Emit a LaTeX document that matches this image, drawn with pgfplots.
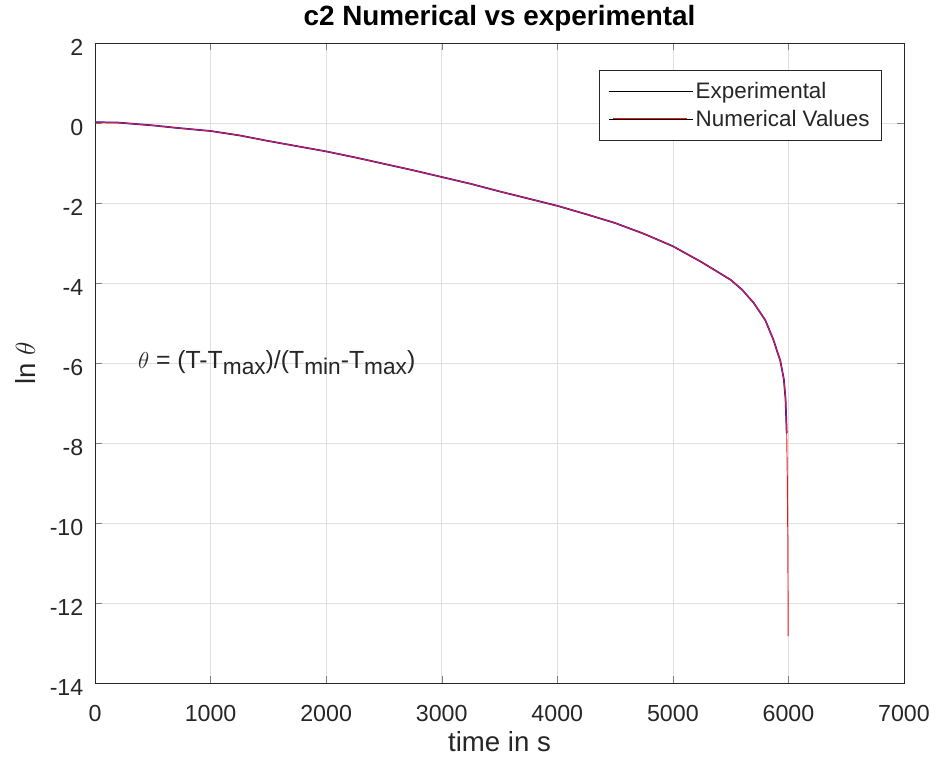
\documentclass[border=0pt]{standalone}
\usepackage{pgfplots}
\pgfplotsset{compat=1.18}
\usepackage{fontspec}
\setmainfont{Liberation Sans}
\definecolor{mblue}{rgb}{0.1,0.1,0.85}
\definecolor{mred}{rgb}{0.92,0.1,0.1}
\definecolor{mtext}{rgb}{0.15,0.15,0.15}
\newcommand{\sub}[1]{\raisebox{-0.45ex}{\fontsize{17}{18}\selectfont #1}}
\begin{document}
\begin{tikzpicture}
\useasboundingbox (-71.25pt,-64.5pt) rectangle (631.5pt,512.25pt);
\begin{axis}[
  at={(0,0)}, anchor=south west,
  scale only axis, clip mode=individual,
  width=606.75pt, height=480pt,
  xmin=0, xmax=7000, ymin=-14, ymax=2,
  xtick={0,1000,...,7000}, ytick={-14,-12,...,2},
  /pgf/number format/assume math mode=true,
  /pgf/number format/set thousands separator={},
  tick label style={font=\fontsize{17.4}{19}\selectfont, text=mtext},
  xticklabel style={yshift=-13.25pt},
  yticklabel style={xshift=-5.25pt, yshift=-3.5pt},
  tick align=inside, tick pos=both,
  major tick length=5pt,
  grid=major, grid style={gray!25, line width=0.5pt},
  axis line style={mtext, line width=0.6pt},
  xlabel={time in s}, ylabel={ln $\theta$},
  label style={font=\fontsize{20.7}{23}\selectfont, text=mtext},
  xlabel style={at={(axis description cs:0.5,-0.0922)}, anchor=center},
  ylabel style={at={(axis description cs:-0.0865,0.5)}, anchor=center},
  legend style={at={(0.9728,0.9578)}, anchor=north east, draw=mtext, line width=0.6pt,
    font=\fontsize{16.8}{18}\selectfont, text=mtext, inner xsep=7pt, inner ysep=7pt, row sep=3pt},
  legend cell align=left,
]
\addplot[draw=mblue, line width=1.3pt, forget plot] coordinates {
(0,0.02) (200,0.01) (500,-0.06) (700,-0.12) (1000,-0.2) (1250,-0.31) (1500,-0.45)
(1750,-0.58) (2000,-0.71) (2250,-0.86) (2500,-1.02) (2750,-1.18) (3000,-1.35)
(3250,-1.52) (3500,-1.71) (3750,-1.89) (4000,-2.07) (4250,-2.28) (4500,-2.5)
(4750,-2.77) (5000,-3.08) (5250,-3.48) (5500,-3.92) (5600,-4.17) (5700,-4.5)
(5800,-4.93) (5870,-5.42) (5930,-5.95) (5960,-6.4) (5975,-6.9) (5985,-7.75)
};
\addplot[draw=mred, line width=0.7pt, forget plot] coordinates {
(0,0.02) (200,0.01) (500,-0.06) (700,-0.12) (1000,-0.2) (1250,-0.31) (1500,-0.45)
(1750,-0.58) (2000,-0.71) (2250,-0.86) (2500,-1.02) (2750,-1.18) (3000,-1.35)
(3250,-1.52) (3500,-1.71) (3750,-1.89) (4000,-2.07) (4250,-2.28) (4500,-2.5)
(4750,-2.77) (5000,-3.08) (5250,-3.48) (5500,-3.92) (5600,-4.17) (5700,-4.5)
(5800,-4.93) (5870,-5.42) (5930,-5.95) (5960,-6.4) (5975,-6.9) (5985,-7.75)
(5990,-8.8) (5995,-10.5) (5998,-12.83)
};
\addlegendimage{legend image code/.code={\draw[draw=mblue, line width=1.2pt] (3pt,0pt) -- (59pt,0pt); \path (0pt,0pt) -- (63pt,0pt);}}
\addlegendentry{Experimental}
\addlegendimage{legend image code/.code={\draw[draw=mred, line width=1.2pt] (3pt,0pt) -- (59pt,0pt); \path (0pt,0pt) -- (63pt,0pt);}}
\addlegendentry{Numerical Values}
\node[anchor=west, font=\fontsize{18.6}{20}\selectfont, text=mtext, inner sep=0pt] at (axis cs:370,-5.98)
  {$\theta$ = (T-T\sub{max})/(T\sub{min}-T\sub{max})};
\node[anchor=center, font=\fontsize{20.9}{23}\selectfont\bfseries, text=black, inner sep=0pt] at (axis description cs:0.5,1.039)
  {c2 Numerical vs experimental};
\end{axis}
\end{tikzpicture}
\end{document}
